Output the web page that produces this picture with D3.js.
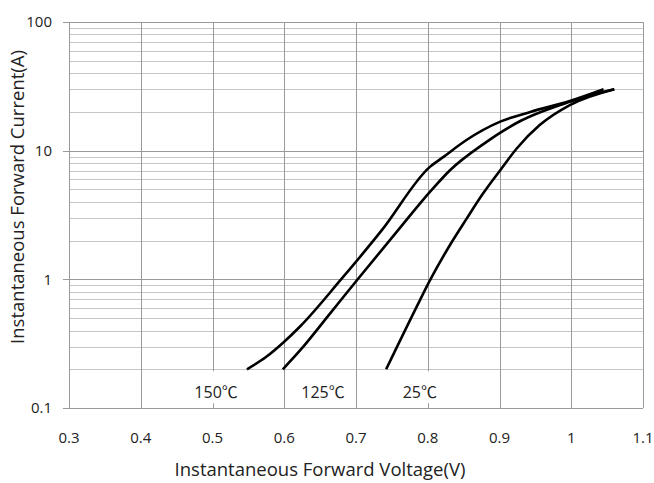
<!DOCTYPE html>
<html>
<head>
<meta charset="utf-8">
<script src="https://cdn.jsdelivr.net/npm/d3@7"></script>
<style>
  body { margin: 0; background: #fff; }
  text { font-family: "Open Sans", "Noto Sans CJK SC", sans-serif; fill: #222; }
</style>
</head>
<body>
<div id="chart"></div>
<script>
const width = 654, height = 483;
const margin = {top: 22, right: 11, bottom: 75, left: 69};

// data
const xTicks = [0.3, 0.4, 0.5, 0.6, 0.7, 0.8, 0.9, 1.0, 1.1];
const xTickLabels = ["0.3", "0.4", "0.5", "0.6", "0.7", "0.8", "0.9", "1", "1.1"];
const yTicks = [0.1, 1, 10, 100];
const yTickLabels = ["0.1", "1", "10", "100"];

const temps = ["150℃", "125℃", "25℃"];
const volt150 = [0.548, 0.575, 0.598, 0.622, 0.678, 0.736, 0.803, 0.822, 0.854, 0.901, 0.943, 0.998, 1.045];
const curr150 = [0.2, 0.25, 0.32, 0.43, 0.98, 2.41, 7.48, 8.95, 12.1, 16.8, 20.0, 24.3, 30.0];
const volt125 = [0.598, 0.622, 0.664, 0.701, 0.761, 0.803, 0.831, 0.877, 0.929, 0.998, 1.060];
const curr125 = [0.2, 0.28, 0.544, 0.98, 2.5, 4.78, 7.05, 11.2, 17.0, 24.0, 30.0];
const volt25 = [0.742, 0.789, 0.803, 0.831, 0.854, 0.877, 0.901, 0.924, 0.956, 0.998, 1.060];
const curr25 = [0.2, 0.687, 0.98, 1.85, 2.95, 4.64, 7.05, 10.4, 15.8, 22.6, 30.0];

const series = [
  {name: temps[0], v: volt150, i: curr150},
  {name: temps[1], v: volt125, i: curr125},
  {name: temps[2], v: volt25, i: curr25}
];

const svg = d3.select("#chart").append("svg")
  .attr("width", width)
  .attr("height", height);

const x = d3.scaleLinear().domain([0.3, 1.1]).range([margin.left, width - margin.right]);
const y = d3.scaleLog().domain([0.1, 100]).range([height - margin.bottom, margin.top]);

// minor horizontal grid
const minor = [];
[0.1, 1, 10].forEach(d => { for (let k = 2; k <= 9; k++) minor.push(d * k); });
svg.append("g").selectAll("line")
  .data(minor)
  .enter().append("line")
  .attr("x1", x(0.3)).attr("x2", x(1.1))
  .attr("y1", d => Math.round(y(d)) + 0.5).attr("y2", d => Math.round(y(d)) + 0.5)
  .attr("stroke", "#c6c6c6");

// major grid
svg.append("g").selectAll("line")
  .data(yTicks)
  .enter().append("line")
  .attr("x1", x(0.3) - 6).attr("x2", x(1.1))
  .attr("y1", d => Math.round(y(d)) + 0.5).attr("y2", d => Math.round(y(d)) + 0.5)
  .attr("stroke", "#9a9a9a");

svg.append("g").selectAll("line")
  .data(xTicks)
  .enter().append("line")
  .attr("x1", d => Math.round(x(d)) + 0.5).attr("x2", d => Math.round(x(d)) + 0.5)
  .attr("y1", y(100)).attr("y2", y(0.1))
  .attr("stroke", "#9a9a9a");

// curves
const line = d3.line()
  .x(d => x(d[0]))
  .y(d => y(d[1]))
  .curve(d3.curveMonotoneX);

svg.append("g").selectAll("path")
  .data(series)
  .enter().append("path")
  .attr("d", s => line(s.v.map((v, k) => [v, s.i[k]])))
  .attr("fill", "none")
  .attr("stroke", "#000")
  .attr("stroke-width", 2.6);

// temperature labels with white boxes
const labelPos = [0.505, 0.654, 0.789];
const lab = svg.append("g").selectAll("g")
  .data(temps)
  .enter().append("g")
  .attr("transform", (d, k) => `translate(${x(labelPos[k])},${y(0.119)})`);
lab.append("rect")
  .attr("x", d => d.length > 3 ? -27 : -22)
  .attr("width", d => d.length > 3 ? 54 : 44)
  .attr("y", -27).attr("height", 32)
  .attr("fill", "#fff");
lab.append("text")
  .attr("text-anchor", "middle")
  .style("font-size", "16px")
  .text(d => d);

// tick labels
svg.append("g").selectAll("text")
  .data(xTicks)
  .enter().append("text")
  .attr("x", d => x(d))
  .attr("y", 443)
  .attr("text-anchor", "middle")
  .style("font-size", "15px")
  .text((d, k) => xTickLabels[k]);

svg.append("g").selectAll("text")
  .data(yTicks)
  .enter().append("text")
  .attr("x", 52)
  .attr("y", d => y(d))
  .attr("dy", "0.35em")
  .attr("text-anchor", "end")
  .style("font-size", "15px")
  .text((d, k) => yTickLabels[k]);

// axis titles
svg.append("text")
  .attr("x", 320)
  .attr("y", 476)
  .attr("text-anchor", "middle")
  .style("font-size", "18.5px")
  .text("Instantaneous Forward Voltage(V)");

svg.append("text")
  .attr("transform", "translate(24,197) rotate(-90)")
  .attr("text-anchor", "middle")
  .style("font-size", "18.5px")
  .text("Instantaneous Forward Current(A)");
</script>
</body>
</html>
